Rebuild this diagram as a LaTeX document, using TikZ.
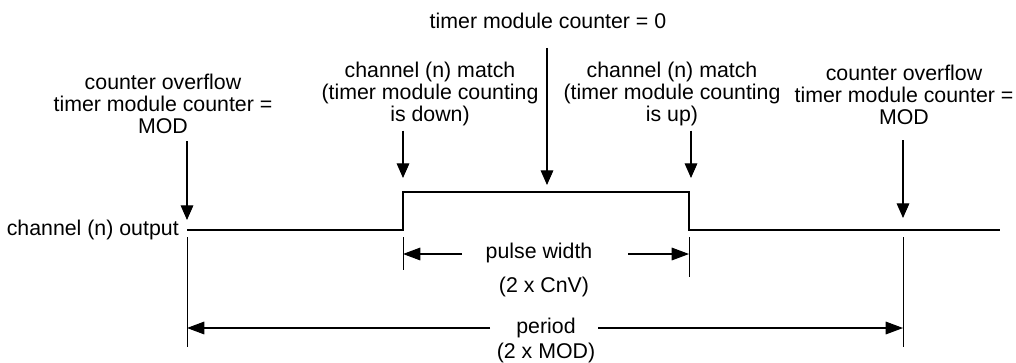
\documentclass[tikz,border=0pt]{standalone}
\usepackage{fontspec}
\setmainfont{Liberation Sans}
\usetikzlibrary{arrows.meta,calc}
\begin{document}
\begin{tikzpicture}[x=0.75pt,y=-0.75pt,
  lbl/.style={inner sep=0pt,align=center,font=\fontsize{16}{16.6}\selectfont},
  sig/.style={line width=1.8pt,line join=miter},
  arr/.style={line width=0.85pt,-{Triangle[length=11pt,width=9.5pt]}},
  harr/.style={line width=0.85pt,-{Triangle[length=13pt,width=9.5pt]}},
  tick/.style={line width=0.6pt}]
\useasboundingbox (0,0) rectangle (1016,362);
% signal corners
\coordinate (p0) at (187,230);
\coordinate (p1) at (403,230);
\coordinate (p2) at (403,192);
\coordinate (p3) at (689,192);
\coordinate (p4) at (689,230);
\coordinate (p5) at (1000,230);
\coordinate (m) at (903,230);
\coordinate (mid) at (547,192);
\coordinate (rmx) at (691,192);
% labels
\node[lbl,anchor=north] (tz) at (548,13) {timer module counter = 0};
\node[lbl,anchor=north] (lo) at (163,74) {counter overflow\\timer module counter =\\MOD};
\node[lbl,anchor=north] (lm) at (430,62) {channel (n) match\\(timer module counting\\is down)};
\node[lbl,anchor=north] (rm) at (672,62) {channel (n) match\\(timer module counting\\is up)};
\node[lbl,anchor=north] (ro) at (904,65) {counter overflow\\timer module counter =\\MOD};
\node[lbl,anchor=east] (out) at (179,230) {channel (n) output};
\node[lbl] (pw) at (539,253) {pulse width};
\node[lbl] (cnv) at (544,287) {(2 x CnV)};
\node[lbl] (per) at (546,328) {period};
\node[lbl] (mod) at (546,353) {(2 x MOD)};
% signal
\draw[sig] (p0) -- (p1) -- (p2) -- (p3) -- (p4) -- (p5);
% event arrows
\draw[arr,shorten <=5pt] (lo.south -| p0) -- ($(p0)+(0,-10)$);
\draw[arr,shorten <=3pt] (lm.south -| p2) -- ($(p2)+(0,-14)$);
\draw[arr,shorten <=14pt] (tz.south -| mid) -- ($(mid)+(0,-7)$);
\draw[arr,shorten <=3pt] (rm.south -| rmx) -- ($(rmx)+(0,-14)$);
\draw[arr,shorten <=11pt] (ro.south -| m) -- ($(m)+(0,-12)$);
% ticks
\coordinate (t0) at (187,347);
\coordinate (t1) at (403,270);
\coordinate (t4) at (689,277);
\coordinate (tm) at (903,347);
\draw[tick] ($(p0)+(0,7)$) -- (t0);
\draw[tick] ($(p1)+(0,7)$) -- (t1);
\draw[tick] ($(p4)+(0,7)$) -- (t4);
\draw[tick] ($(m)+(0,7)$) -- (tm);
% dimension arrows
\coordinate (pwl) at (462,254);
\coordinate (pwr) at (628,254);
\coordinate (pel) at (490,328);
\coordinate (per2) at (598,328);
\draw[harr] (pwl) -- (pwl -| p1);
\draw[harr] (pwr) -- (pwr -| p4);
\draw[harr] (pel) -- (pel -| p0);
\draw[harr] (per2) -- (per2 -| m);
\end{tikzpicture}
\end{document}
